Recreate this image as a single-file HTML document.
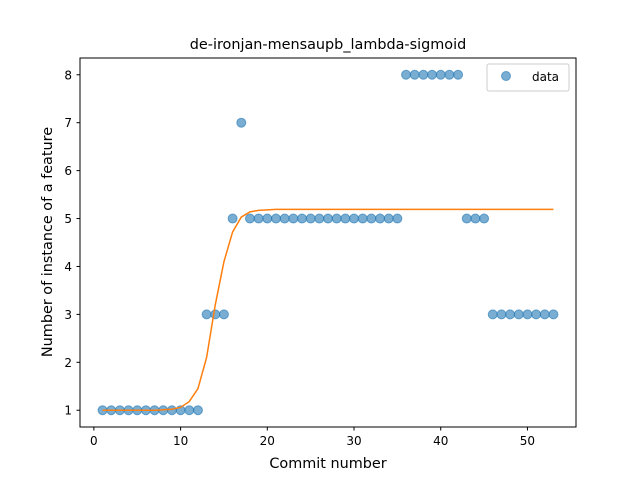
<!DOCTYPE html>
<html><head><meta charset="utf-8"><style>
body{margin:0;background:#fff;font-family:"Liberation Sans","DejaVu Sans",sans-serif}
svg text{font-family:"DejaVu Sans","Liberation Sans",sans-serif}
</style></head><body>
<svg id="chart" width="640" height="480" xmlns="http://www.w3.org/2000/svg">
<rect width="640" height="480" fill="#fff"/>
<text x="328" y="49" font-size="14.4" text-anchor="middle">de-ironjan-mensaupb_lambda-sigmoid</text>
<g id="ticks"></g>
<g id="marks"></g>
<rect x="80" y="58" width="496" height="369" fill="none" stroke="#000" stroke-width="1"/>
<text x="328" y="468" font-size="14.4" text-anchor="middle">Commit number</text>
<text transform="translate(52,242) rotate(-90)" font-size="14.4" text-anchor="middle">Number of instance of a feature</text>
<g>
<rect x="487" y="64" width="82" height="27" rx="2" fill="#fff" stroke="#ccc"/>
<circle cx="506" cy="76" r="4.5" fill="#1f77b4" fill-opacity="0.6" stroke="#1f77b4" stroke-opacity="0.6"/>
<text x="532" y="81" font-size="12">data</text>
</g>
</svg>
<script>
const xs=[1,2,3,4,5,6,7,8,9,10,11,12,13,14,15,16,17,18,19,20,21,22,23,24,25,26,27,28,29,30,31,32,33,34,35,36,37,38,39,40,41,42,43,44,45,46,47,48,49,50,51,52,53];
const ys=[1,1,1,1,1,1,1,1,1,1,1,1,3,3,3,5,7,5,5,5,5,5,5,5,5,5,5,5,5,5,5,5,5,5,5,8,8,8,8,8,8,8,5,5,5,3,3,3,3,3,3,3,3];
const fit=[1,1,1,1,1,1,1,1.01,1.02,1.06,1.18,1.45,2.1,3.2,4.1,4.72,5.03,5.14,5.17,5.18,5.19,5.19,5.19,5.19,5.19,5.19,5.19,5.19,5.19,5.19,5.19,5.19,5.19,5.19,5.19,5.19,5.19,5.19,5.19,5.19,5.19,5.19,5.19,5.19,5.19,5.19,5.19,5.19,5.19,5.19,5.19,5.19,5.19];
const xTicks=[0,10,20,30,40,50];
const yTicks=[1,2,3,4,5,6,7,8];
const X=v=>80+(v+1.6)/57.2*496, Y=v=>427-(v-0.65)/7.7*369;
const NS="http://www.w3.org/2000/svg";
const tg=document.getElementById('ticks'), mg=document.getElementById('marks');
function mk(tag,at,p){const e=document.createElementNS(NS,tag);for(const k in at)e.setAttribute(k,at[k]);p.appendChild(e);return e;}
xTicks.forEach(t=>{const x=X(t);
const l=mk('line',{x1:x,x2:x,y1:427,y2:430.5,stroke:'#000'},tg);


const s=mk('text',{x:x,y:445,'font-size':12,'text-anchor':'middle'},tg);s.textContent=t;

});
yTicks.forEach(t=>{const y=Y(t);
const l=mk('line',{x1:76.5,x2:80,y1:y,y2:y,stroke:'#000'},tg);


const s=mk('text',{x:72,y:y+4.5,'font-size':12,'text-anchor':'end'},tg);s.textContent=t;

});
xs.forEach((x,i)=>{const c=mk('circle',{cx:X(x),cy:Y(ys[i]),r:4.5,fill:'#1f77b4','fill-opacity':0.6,stroke:'#1f77b4','stroke-opacity':0.6,'stroke-width':1},mg);

});
const p=mk('polyline',{points:xs.map((x,i)=>X(x)+','+Y(fit[i])).join(' '),fill:'none',stroke:'#ff7f0e','stroke-width':1.5},mg);


</script>
</body></html>
